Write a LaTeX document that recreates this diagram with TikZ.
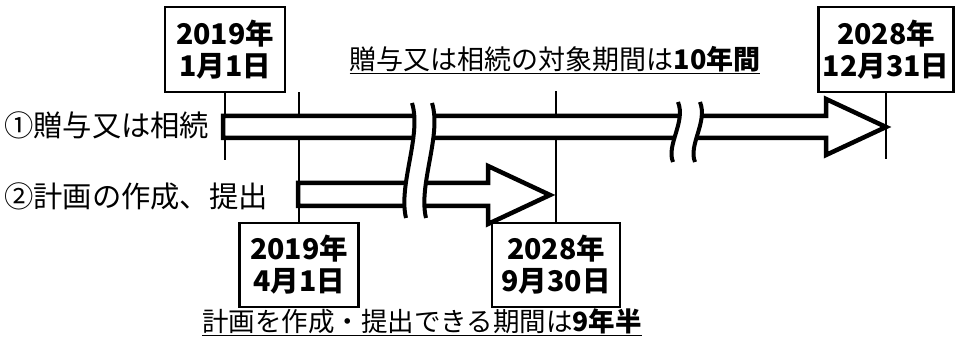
\documentclass[tikz,border=0pt]{standalone}
\usepackage{fontspec}
\setmainfont{Noto Sans CJK JP}
\usepackage{tikz}

\tikzset{
	datebox/.style={draw, line width=2.5pt, fill=white, align=center, inner sep=0pt, font=\bfseries\fontsize{28.5}{32}\selectfont},
	jtext/.style={inner sep=0pt, font=\fontsize{27}{32}\selectfont},
	rowlabel/.style={inner sep=0pt, anchor=west, font=\fontsize{29.3}{32}\selectfont},
	tick/.style={line width=2pt},
	blockarrow/.style={line width=4.5pt, fill=white, line join=miter},
	brk/.style={line width=4pt}
}

\begin{document}
\begin{tikzpicture}[x=1pt,y=-1pt]
	\useasboundingbox (0,0) rectangle (955,344);
	\node[datebox, minimum width=120, minimum height=85] (jan) at (225,49.5) {2019年\\1月1日};
	\node[datebox, minimum width=119, minimum height=84] (apr) at (299,265) {2019年\\4月1日};
	\node[datebox, minimum width=128, minimum height=84] (sep) at (556,265) {2028年\\9月30日};
	\node[datebox, minimum width=135, minimum height=85] (dec) at (886,49.5) {2028年\\12月31日};
	\node[rowlabel] (gift) at (4,125) {①贈与又は相続};
	\node[rowlabel] (plan) at (4,196) {②計画の作成、提出};
	\node[jtext] (span) at (555,60) {\underline{贈与又は相続の対象期間は\textbf{10年間}}};
	\node[jtext, font=\fontsize{26.5}{32}\selectfont] (term) at (422,322) {\underline{計画を作成・提出できる期間は\textbf{9年半}}};
	\draw[tick] (jan.south) -- ++(0,67);
	\draw[tick] (apr.north) -- ++(0,-130);
	\draw[tick] (sep.north) -- ++(0,-131);
	\draw[tick] (dec.south) -- ++(0,66);
	\draw[blockarrow] (223,116) -- (826,116) -- (826,99) -- (886,127) -- (826,155) -- (826,138) -- (223,138) -- cycle;
	\draw[blockarrow] (298,183) -- (488,183) -- (488,166) -- (550,195) -- (488,224) -- (488,206) -- (298,206) -- cycle;
	\fill[white] (412,103) .. controls (422,135) and (398,185) .. (406,218) -- (426,218) .. controls (418,185) and (442,135) .. (432,103) -- cycle;
	\draw[brk] (412,103) .. controls (422,135) and (398,185) .. (406,218);
	\draw[brk] (432,103) .. controls (442,135) and (418,185) .. (426,218);
	\fill[white] (678,102) .. controls (686,122) and (666,145) .. (673,162) -- (695,162) .. controls (688,145) and (708,122) .. (700,102) -- cycle;
	\draw[brk] (678,102) .. controls (686,122) and (666,145) .. (673,162);
	\draw[brk] (700,102) .. controls (708,122) and (688,145) .. (695,162);
\end{tikzpicture}
\end{document}
